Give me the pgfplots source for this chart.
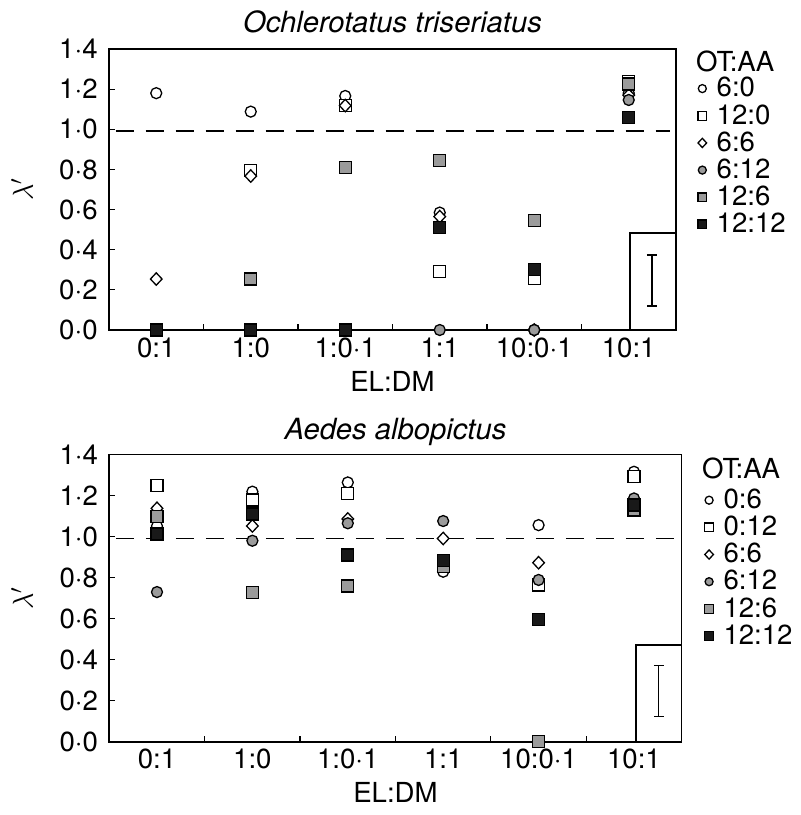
\documentclass[border=0pt]{standalone}
\usepackage{fontspec}
\setmainfont{TeX Gyre Heros}
\usepackage{pgfplots}
\pgfplotsset{compat=1.18}
\definecolor{mgray}{RGB}{155,155,155}
\definecolor{mblack}{RGB}{25,25,25}
\newcommand{\F}{\fontsize{13.8}{16}\selectfont}
\newcommand{\FT}{\fontsize{14.6}{17}\selectfont}
\pgfplotsset{
  mystyle/.style={
    scale only axis, clip=false,
    axis line style={line width=0.8pt},
    xmin=-0.5, xmax=5.5, ymin=0, ymax=1.4,
    ytick={0,0.2,0.4,0.6,0.8,1.0,1.2,1.4},
    yticklabels={0·0,0·2,0·4,0·6,0·8,1·0,1·2,1·4},
    xtick={0.5,1.5,2.5,3.5,4.5}, xticklabels={,,,,},
    extra x ticks={0,1,2,3,4,5},
    extra x tick labels={0:1,1:0,1:0·1,1:1,10:0·1,10:1},
    extra x tick style={major tick length=0pt},
    tick align=inside, xtick pos=left, ytick pos=left,
    major tick length=3pt, tick style={line width=0.6pt, black},
    tick label style={font=\F},
    yticklabel style={anchor=east, inner sep=0pt, xshift=-5.5pt},
    xticklabel style={anchor=base, inner sep=0pt, yshift=-13.5pt},
    label style={font=\F},
    xlabel={EL:DM}, ylabel={$\lambda'$},
    title style={font=\FT\itshape, anchor=base, inner sep=0pt, yshift=-6pt},
    legend style={draw=none, fill=none, inner sep=0pt, anchor=north west, row sep=2.3pt, column sep=5pt, font=\F, nodes={inner sep=0pt}},
    legend cell align=left,
    legend image code/.code={\draw[##1] plot coordinates {(0pt,0pt)};},
  },
  s1/.style={only marks, mark=*, mark size=2.75pt, mark options={fill=white, draw=black, line width=0.65pt}},
  s2/.style={only marks, mark=square*, mark size=3pt, mark options={fill=white, draw=black, line width=0.65pt}},
  s3/.style={only marks, mark=diamond*, mark size=3.1pt, mark options={fill=white, draw=black, line width=0.65pt, xscale=1.25}},
  s4/.style={only marks, mark=*, mark size=2.75pt, mark options={fill=mgray, draw=black, line width=0.65pt}},
  s5/.style={only marks, mark=square*, mark size=3pt, mark options={fill=mgray, draw=black, line width=0.65pt}},
  s6/.style={only marks, mark=square*, mark size=3pt, mark options={fill=mblack, draw=black, line width=0.65pt}},
}
\begin{document}
\begin{tikzpicture}
\useasboundingbox (0,0) rectangle (400pt,-407.5pt);
% ---------------- top panel
\begin{axis}[mystyle,
  at={(54.5pt,-24.5pt)}, anchor=north west,
  width=283.5pt, height=140.5pt,
  title={Ochlerotatus triseriatus},
  title style={at={(0.5,1.057)}},
  xlabel style={at={(axis description cs:0.5,-0.2196)}, anchor=base},
  ylabel style={at={(axis description cs:-0.1534,0.5)}, anchor=center},
  legend style={at={(axis description cs:1.038,0.9007)}},
]
\addplot[black, line width=0.9pt, dash pattern=on 9pt off 6pt, forget plot] coordinates {(-0.43,0.99) (5.44,0.99)};
\addplot[black, line width=0.8pt, forget plot] coordinates {(5.013,0) (5.013,0.484) (5.5,0.484)};
\addplot[black, mark=none, forget plot, error bars/.cd, y dir=both, y explicit,
  error bar style={line width=0.6pt, black},
  error mark options={rotate=90, mark size=2.5pt, line width=0.6pt, black}]
  coordinates {(5.246,0.247) +- (0,0.127)};
% OT:AA 6:0
\addplot[s1, forget plot] coordinates {(0,1.18) (1,1.088) (2,1.166) (3,0.585) (4,0) (5,1.18)};
% 12:0
\addplot[s2, forget plot] coordinates {(0,0) (1,0.794) (2,1.12) (3,0.29) (4,0.257) (5,1.237)};
% 6:6
\addplot[s3, forget plot] coordinates {(0,0.254) (1,0.767) (2,1.118) (3,0.565) (4,0) (5,1.17)};
% 6:12
\addplot[s4, forget plot] coordinates {(0,0) (1,0) (2,0) (3,0) (4,0) (5,1.146)};
% 12:6
\addplot[s5, forget plot] coordinates {(0,0) (1,0.254) (2,0.809) (3,0.844) (4,0.545) (5,1.226)};
% 12:12
\addplot[s6, forget plot] coordinates {(0,0) (1,0) (2,0) (3,0.512) (4,0.302) (5,1.058)};
\node[font=\F, anchor=west, inner sep=0pt] at (axis description cs:1.035,0.955) {OT:AA};
\addlegendimage{s1, mark size=2pt}\addlegendentry{6:0}
\addlegendimage{s2, mark size=2.2pt}\addlegendentry{12:0}
\addlegendimage{s3, mark size=2.3pt}\addlegendentry{6:6}
\addlegendimage{s4, mark size=2pt}\addlegendentry{6:12}
\addlegendimage{s5, mark size=2.2pt}\addlegendentry{12:6}
\addlegendimage{s6, mark size=2.2pt}\addlegendentry{12:12}
\end{axis}
% ---------------- bottom panel
\begin{axis}[mystyle,
  at={(54.65pt,-227.15pt)}, anchor=north west,
  width=286.2pt, height=143.7pt,
  title={Aedes albopictus},
  title style={at={(0.5,1.05)}},
  xlabel style={at={(axis description cs:0.5,-0.212)}, anchor=base},
  ylabel style={at={(axis description cs:-0.1525,0.5)}, anchor=center},
  legend style={at={(axis description cs:1.0395,0.881)}},
]
\addplot[black, line width=0.9pt, dash pattern=on 9pt off 6pt, forget plot] coordinates {(-0.43,0.99) (5.44,0.99)};
\addplot[black, line width=0.8pt, forget plot] coordinates {(5.02,0) (5.02,0.471) (5.5,0.471)};
\addplot[black, mark=none, forget plot, error bars/.cd, y dir=both, y explicit,
  error bar style={line width=0.6pt, black},
  error mark options={rotate=90, mark size=2.5pt, line width=0.6pt, black}]
  coordinates {(5.26,0.246) +- (0,0.124)};
% 0:6
\addplot[s1, forget plot] coordinates {(0,1.05) (1,1.218) (2,1.263) (3,0.828) (4,1.055) (5,1.315)};
% 0:12
\addplot[s2, forget plot] coordinates {(0,1.247) (1,1.177) (2,1.21) (3,0.86) (4,0.763) (5,1.291)};
% 6:6
\addplot[s3, forget plot] coordinates {(0,1.137) (1,1.051) (2,1.085) (3,0.99) (4,0.872) (5,1.17)};
% 6:12
\addplot[s4, forget plot] coordinates {(0,0.729) (1,0.979) (2,1.064) (3,1.075) (4,0.788) (5,1.185)};
% 12:6
\addplot[s5, forget plot] coordinates {(0,1.096) (1,0.726) (2,0.758) (3,0.852) (4,0) (5,1.128)};
% 12:12
\addplot[s6, forget plot] coordinates {(0,1.012) (1,1.109) (2,0.909) (3,0.882) (4,0.596) (5,1.153)};
\node[font=\F, anchor=west, inner sep=0pt] at (axis description cs:1.035,0.951) {OT:AA};
\addlegendimage{s1, mark size=2pt}\addlegendentry{0:6}
\addlegendimage{s2, mark size=2.2pt}\addlegendentry{0:12}
\addlegendimage{s3, mark size=2.3pt}\addlegendentry{6:6}
\addlegendimage{s4, mark size=2pt}\addlegendentry{6:12}
\addlegendimage{s5, mark size=2.2pt}\addlegendentry{12:6}
\addlegendimage{s6, mark size=2.2pt}\addlegendentry{12:12}
\end{axis}
\end{tikzpicture}
\end{document}
